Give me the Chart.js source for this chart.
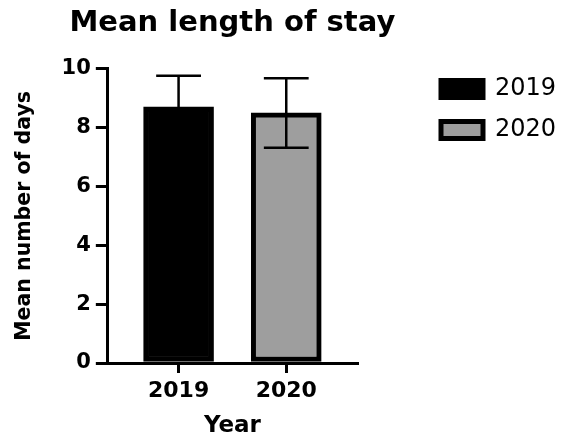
<!DOCTYPE html>
<html lang="en">
<head>
  <meta charset="UTF-8" />
  <title>Mean length of stay</title>
  <script src="https://cdn.jsdelivr.net/npm/chart.js"></script>
  <style>
    body { margin: 0; background: #fff; }
    .chart-box { width: 574px; height: 440px; }
  </style>
</head>
<body>
  <div class="chart-box"><canvas id="stayChart"></canvas></div>

<script>
  const years = ['2019', '2020'];
  const meanDays = [8.71, 8.5];
  const sdDays = [1.05, 1.18];
  const barColors = ['#000000', '#9e9e9e'];
  const yTicks = [0, 2, 4, 6, 8, 10];

  Chart.defaults.font.family = "'DejaVu Sans', sans-serif";
  Chart.defaults.color = '#000';

  // error bars (mean +/- sd), drawn on top of the bars
  const errorBars = {
    id: 'errorBars',
    afterDatasetsDraw(chart) {
      const { ctx } = chart;
      const y = chart.scales.y;
      ctx.save();
      ctx.strokeStyle = '#000';
      ctx.lineWidth = 2.5;
      chart.data.datasets.forEach((ds, i) => {
        chart.getDatasetMeta(i).data.forEach((bar, j) => {
          const m = ds.data[j].y;
          const top = y.getPixelForValue(m + sdDays[i]);
          const bot = y.getPixelForValue(m - sdDays[i]);
          const half = bar.width * 0.32;
          ctx.beginPath();
          ctx.moveTo(bar.x, top); ctx.lineTo(bar.x, bot);
          ctx.moveTo(bar.x - half, top); ctx.lineTo(bar.x + half, top);
          ctx.moveTo(bar.x - half, bot); ctx.lineTo(bar.x + half, bot);
          ctx.stroke();
        });
      });
      ctx.restore();
    }
  };

  // fixed legend column on the right, title centred over the plot
  const placeBlocks = {
    id: 'placeBlocks',
    afterInit(chart) {
      const lg = chart.legend;
      const fit = lg.fit.bind(lg);
      lg.fit = () => { fit(); lg.width = 217; };
    },
    afterLayout(chart) {
      const lg = chart.legend;
      lg.left = 424;
      lg.top = 60;
      lg.right = chart.width;
      lg.bottom = chart.height;
      const t = chart.titleBlock;
      const c = (chart.chartArea.left + chart.chartArea.right) / 2;
      t.left = c - 230;
      t.right = c + 230;
    }
  };

  const datasets = years.map((yr, i) => ({
    label: yr,
    data: [{ x: i + 1, y: meanDays[i] }],
    backgroundColor: barColors[i],
    borderColor: '#000',
    borderWidth: 5,
    borderSkipped: false,
    barThickness: 70,
    grouped: false
  }));

  new Chart(document.getElementById('stayChart'), {
    type: 'bar',
    data: { datasets },
    options: {
      responsive: true,
      maintainAspectRatio: false,
      animation: false,
      layout: { padding: 0 },
      plugins: {
        title: {
          display: true,
          text: 'Mean length of stay',
          fullSize: false,
          font: { size: 29, weight: 'bold' },
          padding: { top: 6, bottom: 28 }
        },
        legend: {
          position: 'right',
          align: 'start',
          labels: {
            boxWidth: 42,
            boxHeight: 17,
            padding: 17,
            font: { size: 24 }
          }
        },
        tooltip: { enabled: false }
      },
      scales: {
        x: {
          type: 'linear',
          offset: false,
          min: 0.343,
          max: 2.657,
          afterBuildTicks: (scale) => { scale.ticks = years.map((_, i) => ({ value: i + 1 })); },
          ticks: {
            callback: (v) => years[v - 1],
            font: { size: 22, weight: 'bold' },
            padding: 5,
            maxRotation: 0
          },
          grid: { offset: false, drawOnChartArea: false, color: '#000', lineWidth: 3, tickLength: 10 },
          border: { color: '#000', width: 3 },
          title: {
            display: true,
            text: 'Year',
            font: { size: 23, weight: 'bold' },
            padding: { top: 3, bottom: 0 }
          }
        },
        y: {
          min: 0,
          max: 10,
          afterBuildTicks: (scale) => { scale.ticks = yTicks.map(v => ({ value: v })); },
          ticks: { font: { size: 21, weight: 'bold' }, padding: 5 },
          grid: { drawOnChartArea: false, color: '#000', lineWidth: 3, tickLength: 12 },
          border: { color: '#000', width: 3 },
          title: {
            display: true,
            text: 'Mean number of days',
            font: { size: 20.5, weight: 'bold' },
            padding: { top: 12, bottom: 20 }
          }
        }
      }
    },
    plugins: [errorBars, placeBlocks]
  });
</script>
</body>
</html>
